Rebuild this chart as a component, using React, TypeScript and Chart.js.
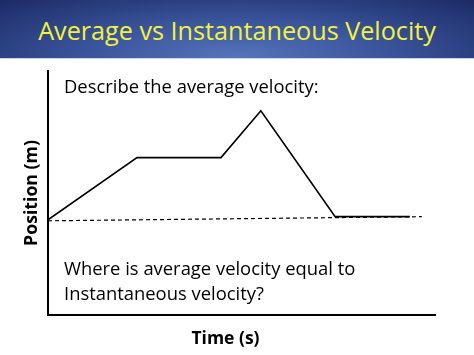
import React, { useEffect, useRef } from "react";
import { Chart, registerables } from "chart.js";

Chart.register(...registerables);

const titleText = "Average vs Instantaneous Velocity";
const questionTop = "Describe the average velocity:";
const questionBottom = ["Where is average velocity equal to", "Instantaneous velocity?"];
const xAxisLabel = "Time (s)";
const yAxisLabel = "Position (m)";

const timeS = [0, 2.3, 4.47, 5.5, 7.42, 9.35];
const positionM = [3.9, 6.45, 6.45, 8.37, 4.03, 4.03];
const avgTimeS = [0, 9.66];
const avgPositionM = [3.86, 4.03];

const FONT = "'Open Sans', 'Noto Sans', sans-serif";

const textPlugin = {
  id: "slideText",
  afterDraw(chart: any) {
    const { ctx, chartArea } = chart;
    ctx.save();
    ctx.fillStyle = "#000";
    ctx.textAlign = "left";
    ctx.textBaseline = "alphabetic";
    ctx.font = `18.4px ${FONT}`;
    ctx.fillText(questionTop, chartArea.left + 16, chartArea.top + 22);
    ctx.fillText(questionBottom[0], chartArea.left + 16, chartArea.top + 204);
    ctx.fillText(questionBottom[1], chartArea.left + 16, chartArea.top + 229);

    ctx.font = `bold 17.5px ${FONT}`;
    ctx.textAlign = "center";
    ctx.fillText(xAxisLabel, 225.5, chartArea.bottom + 29);

    ctx.font = `bold 17.7px ${FONT}`;
    ctx.translate(37, (chartArea.top + chartArea.bottom) / 2);
    ctx.rotate(-Math.PI / 2);
    ctx.fillText(yAxisLabel, 0, 0);
    ctx.restore();
  },
};

export default function App() {
  const ref = useRef<HTMLCanvasElement>(null);
  useEffect(() => {
    if (!ref.current) return;
    const chart = new Chart(ref.current, {
      type: "line",
      data: {
        datasets: [
          {
            label: "Position",
            data: timeS.map((t, i) => ({ x: t, y: positionM[i] })),
            borderColor: "#000",
            borderWidth: 1.6,
            pointRadius: 0,
            tension: 0,
          },
          {
            label: "Average",
            data: avgTimeS.map((t, i) => ({ x: t, y: avgPositionM[i] })),
            borderColor: "#000",
            borderWidth: 1.2,
            borderDash: [4, 3],
            pointRadius: 0,
            tension: 0,
          },
        ],
      },
      options: {
        responsive: false,
        animation: false,
        layout: { padding: { left: 48, right: 39, top: 12, bottom: 40 } },
        plugins: { legend: { display: false }, tooltip: { enabled: false }, title: { display: false } },
        scales: {
          x: {
            type: "linear",
            min: 0,
            max: 10,
            grid: { display: false, drawTicks: false },
            ticks: { display: false },
            border: { display: true, color: "#000", width: 2 },
          },
          y: {
            type: "linear",
            min: 0,
            max: 10,
            grid: { display: false, drawTicks: false },
            ticks: { display: false },
            border: { display: true, color: "#000", width: 2 },
          },
        },
      },
      plugins: [textPlugin],
    });
    return () => chart.destroy();
  }, []);

  return (
    <div style={{ position: "fixed", left: 0, top: 0, width: 474, height: 355, background: "#fff", overflow: "hidden" }}>
      <div
        style={{
          position: "absolute",
          left: 0,
          top: 0,
          width: 474,
          height: 58,
          background:
            "radial-gradient(ellipse 70% 140% at 50% 100%, #5575bb 0%, #3b559c 45%, #1c2b66 100%)",
          borderBottom: "1px solid #c9d5ea",
          display: "flex",
          alignItems: "center",
          justifyContent: "center",
        }}
      >
        <span style={{ color: "#f3f23f", fontFamily: FONT, fontSize: 25.2, whiteSpace: "nowrap", marginTop: 2 }}>
          {titleText}
        </span>
      </div>
      <canvas ref={ref} width={474} height={296} style={{ position: "absolute", left: 0, top: 59 }} />
    </div>
  );
}
